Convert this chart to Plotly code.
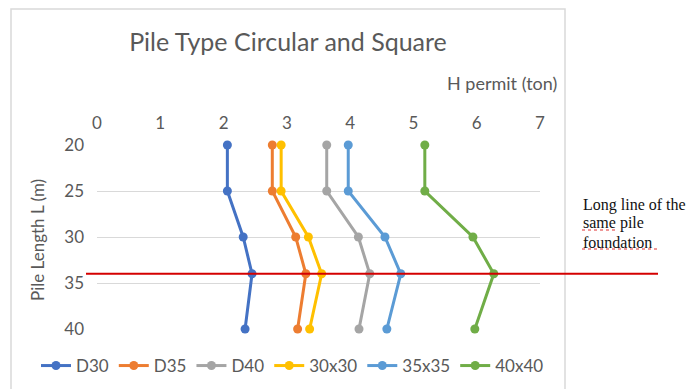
import plotly.graph_objects as go

# Pile length (m) at which the horizontal capacity was evaluated
pile_length = [20, 25, 30, 34, 40]

# Permitted horizontal load H (ton) for each pile section
series_names = ["D30", "D35", "D40", "30x30", "35x35", "40x40"]
h_d30 = [2.06, 2.06, 2.31, 2.45, 2.34]
h_d35 = [2.77, 2.77, 3.14, 3.30, 3.17]
h_d40 = [3.63, 3.63, 4.13, 4.31, 4.14]
h_30x30 = [2.91, 2.91, 3.34, 3.55, 3.36]
h_35x35 = [3.97, 3.97, 4.55, 4.80, 4.58]
h_40x40 = [5.18, 5.18, 5.94, 6.27, 5.97]
series_values = [h_d30, h_d35, h_d40, h_30x30, h_35x35, h_40x40]
series_colors = ["#4472C4", "#ED7D31", "#A5A5A5", "#FFC000", "#5B9BD5", "#70AD47"]

# Same pile length shared by every section
common_length = 34

x_ticks = [0, 1, 2, 3, 4, 5, 6, 7]
y_ticks = [20, 25, 30, 35, 40]

W, H = 693, 389
ML, MR, MT, MB = 97, 153, 145, 60
PW, PH = W - ML - MR, H - MT - MB


def px(x):
    """pixel column -> paper x"""
    return (x - ML) / PW


def py(y):
    """pixel row -> paper y"""
    return (H - MB - y) / PH


FONT = "Lato"
GREY = "#595959"

fig = go.Figure()
for name, vals, col in zip(series_names, series_values, series_colors):
    fig.add_trace(go.Scatter(
        x=vals, y=pile_length, name=name, mode="lines+markers",
        line=dict(color=col, width=3),
        marker=dict(color=col, size=9),
        cliponaxis=False,
    ))

fig.update_layout(
    width=W, height=H,
    margin=dict(l=ML, r=MR, t=MT, b=MB, autoexpand=False),
    paper_bgcolor="white", plot_bgcolor="white",
    font=dict(family=FONT, color=GREY, size=17),
    title=dict(text="Pile Type Circular and Square", x=288 / W, xanchor="center",
               y=1 - 42 / H, yanchor="middle", xref="container", yref="container",
               font=dict(family=FONT, size=25, color=GREY)),
    xaxis=dict(range=[0, 7], side="top", tickvals=x_ticks, showgrid=False,
               zeroline=False, showline=False, ticks="", ticklabelstandoff=12,
               tickfont=dict(size=17, color=GREY)),
    yaxis=dict(range=[40, 20], tickvals=y_ticks, showgrid=True, gridcolor="#d9d9d9",
               gridwidth=1, zeroline=False, showline=False, ticks="",
               ticklabelstandoff=12, tickfont=dict(size=17, color=GREY)),
    legend=dict(orientation="h", x=px(36), xanchor="left", y=py(366), yanchor="middle",
                font=dict(size=17, color=GREY), bgcolor="rgba(0,0,0,0)",
                itemwidth=30, tracegroupgap=0),
    showlegend=True,
)

# chart frame
fig.add_shape(type="rect", xref="paper", yref="paper",
              x0=px(11), x1=px(565), y0=py(400), y1=py(9),
              line=dict(color="#d9d9d9", width=1.5), layer="below")

# horizontal marker line at the common pile length
fig.add_shape(type="line", xref="paper", yref="y",
              x0=px(86), x1=px(658), y0=common_length, y1=common_length,
              line=dict(color="#d40000", width=2))

fig.add_annotation(text="H permit (ton)", xref="paper", yref="paper",
                   x=px(559), y=py(83), xanchor="right", yanchor="middle",
                   showarrow=False, font=dict(size=18, color=GREY, family=FONT))
fig.add_annotation(text="Pile Length L (m)", xref="paper", yref="paper",
                   x=px(37), y=py(240), xanchor="center", yanchor="middle",
                   textangle=-90, showarrow=False,
                   font=dict(size=17, color=GREY, family=FONT))

note_lines = [("Long line of the", 205), ("same pile", 223), ("foundation", 242)]
for txt, yy in note_lines:
    fig.add_annotation(text=txt, xref="paper", yref="paper", x=px(581), y=py(yy),
                       xanchor="left", yanchor="middle", showarrow=False,
                       font=dict(family="Liberation Serif", size=16, color="#111111"))

# spell-check style underlines
for x0, x1, yy in [(582, 618, 230), (582, 657, 249)]:
    fig.add_shape(type="line", xref="paper", yref="paper",
                  x0=px(x0), x1=px(x1), y0=py(yy), y1=py(yy),
                  line=dict(color="#e03030", width=1.2, dash="dot"))

fig.write_html("out.html")
